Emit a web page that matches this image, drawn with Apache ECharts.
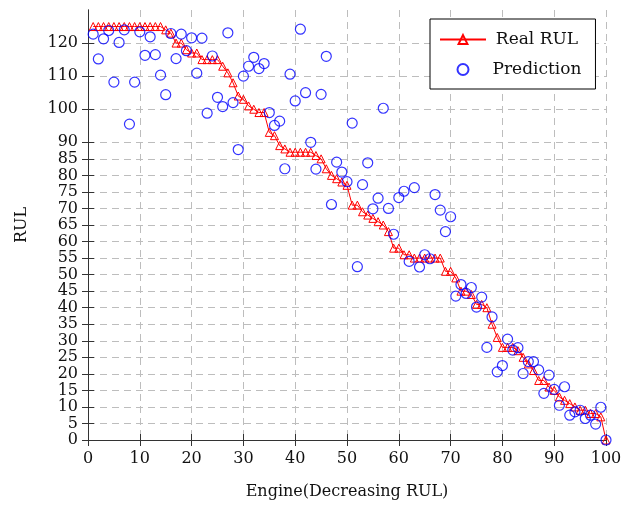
<!DOCTYPE html>
<html>
<head>
<meta charset="utf-8">
<script src="https://cdn.jsdelivr.net/npm/echarts@6/dist/echarts.min.js"></script>
<style>
  html, body { margin: 0; padding: 0; background: #fff; }
  #chart { width: 626px; height: 506px; }
</style>
</head>
<body>
<div id="chart"></div>
<script>
// Engine index, sorted by decreasing true remaining useful life
const engines = [
  1,2,3,4,5,6,7,8,9,10,11,12,13,14,15,16,17,18,19,20,
  21,22,23,24,25,26,27,28,29,30,31,32,33,34,35,36,37,38,39,40,
  41,42,43,44,45,46,47,48,49,50,51,52,53,54,55,56,57,58,59,60,
  61,62,63,64,65,66,67,68,69,70,71,72,73,74,75,76,77,78,79,80,
  81,82,83,84,85,86,87,88,89,90,91,92,93,94,95,96,97,98,99,100
];

// True RUL per engine
const realRUL = [
  125,125,125,125,125,125,125,125,125,125,125,125,125,125,124,123,120,120,118,117,
  117,115,115,115,115,113,111,108,104,103,101,100,99,99,93,92,89,88,87,87,
  87,87,87,86,85,82,80,79,78,77,71,71,69,68,67,66,65,63,58,58,
  56,56,55,55,55,55,55,55,51,51,49,45,45,44,41,41,40,35,31,28,
  28,28,27,25,23,21,18,18,16,15,13,12,11,10,9,9,8,8,7,0
];

// Predicted RUL per engine
const prediction = [
  122.7,115.2,121.3,123.8,108.2,120.2,124.0,95.5,108.2,123.4,
  116.3,121.9,116.5,110.3,104.4,122.9,115.3,122.7,117.7,121.6,
  110.9,121.5,98.8,116.1,103.6,100.8,123.1,102.0,87.8,110.0,
  113.0,115.7,112.3,113.8,99.0,95.1,96.4,82.0,110.6,102.5,
  124.2,105.0,90.0,81.9,104.5,116.0,71.2,84.0,81.0,78.1,
  95.8,52.4,77.2,83.8,69.9,73.1,100.3,70.0,62.2,73.3,
  75.2,54.0,76.3,52.3,56.0,54.8,74.2,69.5,63.0,67.5,
  43.5,47.0,44.3,46.1,40.2,43.2,28.0,37.2,20.6,22.5,
  30.5,27.2,27.9,20.1,23.7,23.7,21.2,14.1,19.6,15.3,
  10.5,16.1,7.5,8.5,9.0,6.5,7.5,4.8,9.9,0.0
];

const xTicks = [0,10,20,30,40,50,60,70,80,90,100];
const yTicks = [0,5,10,15,20,25,30,35,40,45,50,55,60,65,70,75,80,85,90,100,110,120];

const FONT = 'DejaVu Serif';
const AXIS_COLOR = '#333';
const GRID_COLOR = '#bdbdbd';

const chart = echarts.init(document.getElementById('chart'), null, { renderer: 'canvas' });

const gridDash = { type: [7, 5], color: GRID_COLOR, width: 1 };

const option = {
  backgroundColor: '#fff',
  animation: false,
  textStyle: { fontFamily: FONT },
  grid: { left: 88, right: 20, top: 10, bottom: 66, containLabel: false },
  legend: {
    left: 430,
    top: 19,
    orient: 'vertical',
    backgroundColor: '#fff',
    borderColor: '#000',
    borderWidth: 1,
    borderRadius: 0,
    padding: [12, 14, 11, 9],
    itemGap: 13,
    itemWidth: 46,
    itemHeight: 11,
    formatter: name => '{t|' + name + '}',
    textStyle: {
      fontFamily: FONT, fontSize: 17, color: '#111',
      rich: { t: { fontFamily: FONT, fontSize: 17, color: '#111', width: 92, align: 'center' } }
    },
    data: ['Real RUL', 'Prediction']
  },
  xAxis: [
    {
      type: 'value', min: 0, max: 100, interval: 10,
      name: 'Engine(Decreasing RUL)', nameLocation: 'middle', nameGap: 44,
      nameTextStyle: { fontFamily: FONT, fontSize: 16, color: '#111' },
      axisLine: { show: true, lineStyle: { color: '#111', width: 1 } },
      axisTick: { show: true, inside: true, length: 6, lineStyle: { color: AXIS_COLOR } },
      axisLabel: { fontFamily: FONT, fontSize: 16, color: '#111', margin: 11,
        customValues: xTicks },
      splitLine: { show: true, lineStyle: gridDash }
    },
    {
      type: 'value', min: 0, max: 100, interval: 10, position: 'top',
      axisLine: { show: true, lineStyle: { color: AXIS_COLOR, width: 1 } },
      axisTick: { show: true, inside: true, length: 6, lineStyle: { color: AXIS_COLOR } },
      axisLabel: { show: false },
      splitLine: { show: false }
    }
  ],
  yAxis: [
    {
      type: 'value', min: 0, max: 130,
      name: 'RUL', nameLocation: 'middle', nameGap: 58, nameRotate: 90,
      nameTextStyle: { fontFamily: FONT, fontSize: 16, color: '#111' },
      axisLine: { show: true, lineStyle: { color: AXIS_COLOR, width: 1 } },
      axisTick: { show: true, inside: true, length: 6, lineStyle: { color: AXIS_COLOR },
        customValues: yTicks },
      axisLabel: { fontFamily: FONT, fontSize: 16, color: '#111', margin: 10,
        customValues: yTicks },
      splitLine: { show: true, lineStyle: gridDash }
    },
    {
      type: 'value', min: 0, max: 130, position: 'right',
      axisLine: { show: true, lineStyle: { color: AXIS_COLOR, width: 1 } },
      axisTick: { show: true, inside: true, length: 6, lineStyle: { color: AXIS_COLOR },
        customValues: yTicks },
      axisLabel: { show: false },
      splitLine: { show: false }
    }
  ],
  series: [
    {
      name: 'Real RUL',
      type: 'line',
      xAxisIndex: 0, yAxisIndex: 0,
      data: engines.map((e, i) => [e, realRUL[i]]),
      symbol: 'triangle',
      symbolSize: 8,
      showAllSymbol: true,
      lineStyle: { color: '#ff0000', width: 1 },
      itemStyle: { color: 'rgba(255,255,255,0)', borderColor: '#ff0000', borderWidth: 1 },
      z: 2
    },
    {
      name: 'Prediction',
      type: 'scatter',
      xAxisIndex: 0, yAxisIndex: 0,
      data: engines.map((e, i) => [e, prediction[i]]),
      symbol: 'circle',
      symbolSize: 10,
      itemStyle: { color: 'rgba(255,255,255,0)', borderColor: '#0000ff', borderWidth: 1.2 },
      z: 3
    }
  ]
};

chart.setOption(option);
</script>
</body>
</html>
